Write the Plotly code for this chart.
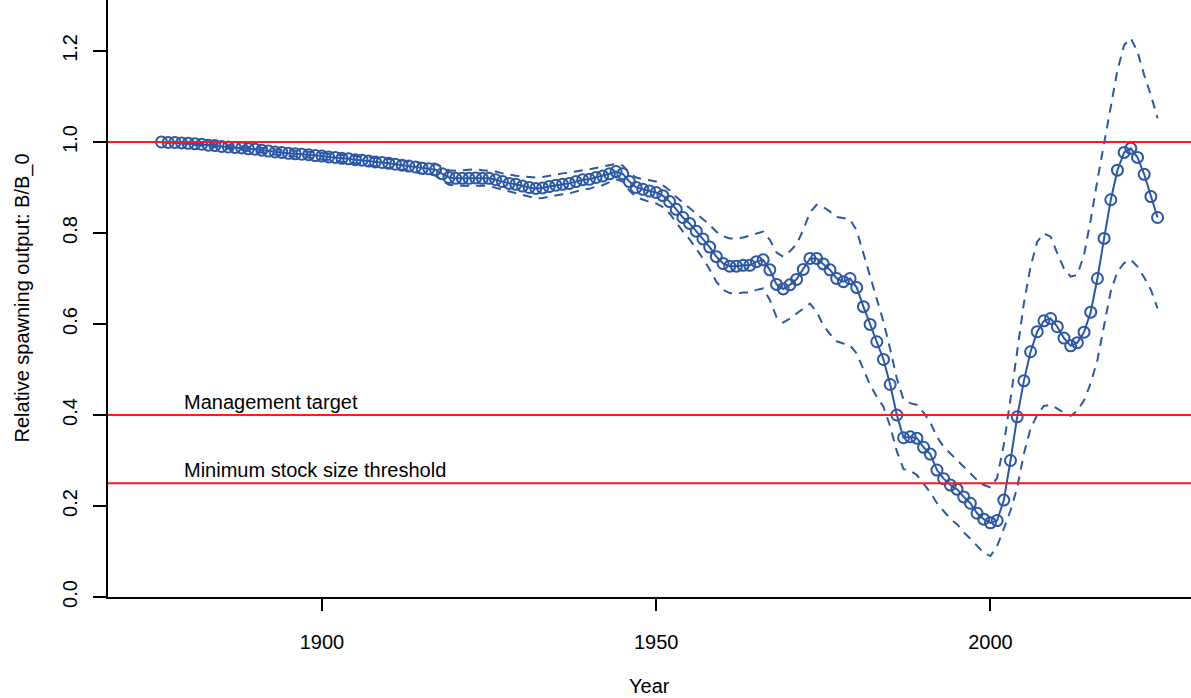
import plotly.graph_objects as go

# Spawning output relative to unfished (B/B_0), with ~95% interval
years = list(range(1876, 2026))

rel_spawn = [
    1.000, 0.999, 0.999, 0.998, 0.997, 0.996, 0.995, 0.993, 0.992, 0.990,  # 1876-1885
    0.989, 0.988, 0.987, 0.985, 0.984, 0.982, 0.980, 0.978, 0.977, 0.975,  # 1886-1895
    0.974, 0.973, 0.972, 0.970, 0.969, 0.967, 0.966, 0.964, 0.963, 0.961,  # 1896-1905
    0.960, 0.958, 0.956, 0.955, 0.953, 0.951, 0.949, 0.947, 0.945, 0.942,  # 1906-1915
    0.941, 0.939, 0.930, 0.922, 0.920, 0.920, 0.920, 0.921, 0.920, 0.920,  # 1916-1925
    0.917, 0.913, 0.909, 0.907, 0.903, 0.900, 0.898, 0.899, 0.902, 0.905,  # 1926-1935
    0.907, 0.909, 0.913, 0.917, 0.918, 0.922, 0.925, 0.930, 0.935, 0.930,  # 1936-1945
    0.913, 0.900, 0.896, 0.892, 0.889, 0.882, 0.869, 0.852, 0.834, 0.821,  # 1946-1955
    0.804, 0.787, 0.769, 0.748, 0.733, 0.727, 0.727, 0.729, 0.729, 0.737,  # 1956-1965
    0.741, 0.719, 0.687, 0.677, 0.686, 0.698, 0.720, 0.744, 0.744, 0.732,  # 1966-1975
    0.719, 0.700, 0.693, 0.700, 0.680, 0.638, 0.599, 0.561, 0.522, 0.467,  # 1976-1985
    0.400, 0.350, 0.352, 0.349, 0.329, 0.314, 0.279, 0.260, 0.246, 0.237,  # 1986-1995
    0.220, 0.206, 0.184, 0.171, 0.163, 0.168, 0.213, 0.300, 0.396, 0.475,  # 1996-2005
    0.539, 0.583, 0.607, 0.612, 0.594, 0.569, 0.552, 0.559, 0.582, 0.626,  # 2006-2015
    0.700, 0.788, 0.873, 0.938, 0.977, 0.986, 0.966, 0.929, 0.880, 0.834,  # 2016-2025
]

upper_ci = [
    1.000, 1.000, 1.000, 0.999, 0.999, 0.998, 0.998, 0.996, 0.995, 0.994,
    0.993, 0.992, 0.991, 0.990, 0.989, 0.987, 0.986, 0.984, 0.983, 0.981,
    0.980, 0.979, 0.978, 0.977, 0.976, 0.974, 0.973, 0.972, 0.971, 0.969,
    0.968, 0.967, 0.965, 0.964, 0.962, 0.961, 0.959, 0.957, 0.956, 0.954,
    0.953, 0.952, 0.945, 0.938, 0.937, 0.938, 0.939, 0.940, 0.938, 0.937,
    0.935, 0.931, 0.928, 0.926, 0.924, 0.923, 0.922, 0.923, 0.926, 0.929,
    0.931, 0.933, 0.936, 0.938, 0.940, 0.943, 0.947, 0.950, 0.952, 0.948,
    0.932, 0.922, 0.918, 0.916, 0.913, 0.905, 0.894, 0.879, 0.867, 0.855,
    0.843, 0.830, 0.818, 0.803, 0.793, 0.788, 0.788, 0.790, 0.794, 0.798,
    0.803, 0.785, 0.757, 0.748, 0.760, 0.775, 0.807, 0.845, 0.862, 0.857,
    0.847, 0.835, 0.833, 0.830, 0.805, 0.755, 0.700, 0.655, 0.605, 0.545,
    0.480, 0.434, 0.426, 0.422, 0.405, 0.384, 0.352, 0.330, 0.315, 0.300,
    0.285, 0.270, 0.257, 0.246, 0.241, 0.262, 0.335, 0.435, 0.545, 0.645,
    0.726, 0.781, 0.799, 0.792, 0.755, 0.722, 0.704, 0.708, 0.752, 0.829,
    0.916, 0.997, 1.078, 1.158, 1.213, 1.228, 1.198, 1.147, 1.103, 1.052,
]

lower_ci = [
    1.000, 0.998, 0.998, 0.997, 0.995, 0.994, 0.992, 0.990, 0.989, 0.986,
    0.985, 0.984, 0.983, 0.980, 0.979, 0.977, 0.974, 0.972, 0.971, 0.969,
    0.968, 0.967, 0.966, 0.963, 0.962, 0.960, 0.959, 0.956, 0.955, 0.953,
    0.952, 0.949, 0.947, 0.946, 0.944, 0.941, 0.939, 0.937, 0.934, 0.930,
    0.929, 0.926, 0.915, 0.906, 0.904, 0.904, 0.904, 0.905, 0.904, 0.903,
    0.899, 0.895, 0.891, 0.888, 0.884, 0.879, 0.876, 0.877, 0.880, 0.883,
    0.885, 0.887, 0.891, 0.895, 0.897, 0.902, 0.905, 0.911, 0.918, 0.913,
    0.893, 0.879, 0.874, 0.868, 0.865, 0.857, 0.843, 0.823, 0.803, 0.786,
    0.765, 0.744, 0.720, 0.693, 0.675, 0.668, 0.667, 0.669, 0.669, 0.675,
    0.678, 0.653, 0.615, 0.603, 0.612, 0.623, 0.634, 0.645, 0.627, 0.597,
    0.578, 0.562, 0.557, 0.553, 0.535, 0.500, 0.466, 0.440, 0.418, 0.375,
    0.320, 0.281, 0.278, 0.268, 0.250, 0.230, 0.206, 0.188, 0.172, 0.160,
    0.142, 0.128, 0.112, 0.097, 0.090, 0.112, 0.150, 0.190, 0.240, 0.315,
    0.370, 0.400, 0.420, 0.422, 0.414, 0.405, 0.398, 0.410, 0.432, 0.470,
    0.521, 0.600, 0.672, 0.715, 0.734, 0.741, 0.726, 0.702, 0.675, 0.634,
]

# Reference levels and their labels
ref_levels = [1.0, 0.4, 0.25]
ref_labels = ["Management target", "Minimum stock size threshold"]
ref_label_levels = [0.4, 0.25]

x_ticks = [1900, 1950, 2000]
y_ticks = [0.0, 0.2, 0.4, 0.6, 0.8, 1.0, 1.2]

BLUE = "#2b57a7"
FONT = "Liberation Sans, Arial, sans-serif"

fig = go.Figure()

for band in (upper_ci, lower_ci):
    fig.add_trace(go.Scatter(
        x=years, y=band, mode="lines",
        line=dict(color=BLUE, width=2, dash="9px,7px"),
        hoverinfo="skip", showlegend=False,
    ))

fig.add_trace(go.Scatter(
    x=years, y=rel_spawn, mode="lines+markers",
    line=dict(color=BLUE, width=2),
    marker=dict(symbol="circle-open", size=11, color=BLUE,
                line=dict(color=BLUE, width=2)),
    showlegend=False,
))

for lvl in ref_levels:
    fig.add_shape(type="line", xref="paper", x0=0, x1=1, yref="y",
                  y0=lvl, y1=lvl, line=dict(color="#ff1a1a", width=2),
                  layer="above")

for txt, lvl in zip(ref_labels, ref_label_levels):
    fig.add_annotation(x=1879, y=lvl, xref="x", yref="y", text=txt,
                       showarrow=False, xanchor="left", yanchor="middle",
                       yshift=13, font=dict(size=20, color="black", family=FONT))

# Axis titles
fig.add_annotation(x=0.5, y=0, xref="paper", yref="paper", text="Year",
                   showarrow=False, xanchor="center", yanchor="middle",
                   yshift=-89, font=dict(size=20, color="black", family=FONT))
fig.add_annotation(x=0, y=0.5, xref="paper", yref="paper",
                   text="Relative spawning output: B/B_0", textangle=-90,
                   showarrow=False, xanchor="center", yanchor="middle",
                   xshift=-86, font=dict(size=20, color="black", family=FONT))

fig.update_layout(
    width=1191, height=698,
    margin=dict(l=108, r=0, t=0, b=101),
    paper_bgcolor="white", plot_bgcolor="white",
    font=dict(family=FONT, size=20, color="black"),
    xaxis=dict(
        range=[1868, 2030], tickmode="array", tickvals=x_ticks,
        ticktext=[str(v) for v in x_ticks],
        showgrid=False, zeroline=False, showline=True,
        linecolor="black", linewidth=2,
        ticks="outside", ticklen=12, tickwidth=2, tickcolor="black",
        ticklabelstandoff=14,
    ),
    yaxis=dict(
        range=[0, 1.312], tickmode="array", tickvals=y_ticks,
        ticktext=[f"{v:.1f}" for v in y_ticks], tickangle=-90,
        showgrid=False, zeroline=False, showline=True,
        linecolor="black", linewidth=2,
        ticks="outside", ticklen=13, tickwidth=2, tickcolor="black",
        ticklabelstandoff=8,
    ),
)

fig.write_html("out.html")
